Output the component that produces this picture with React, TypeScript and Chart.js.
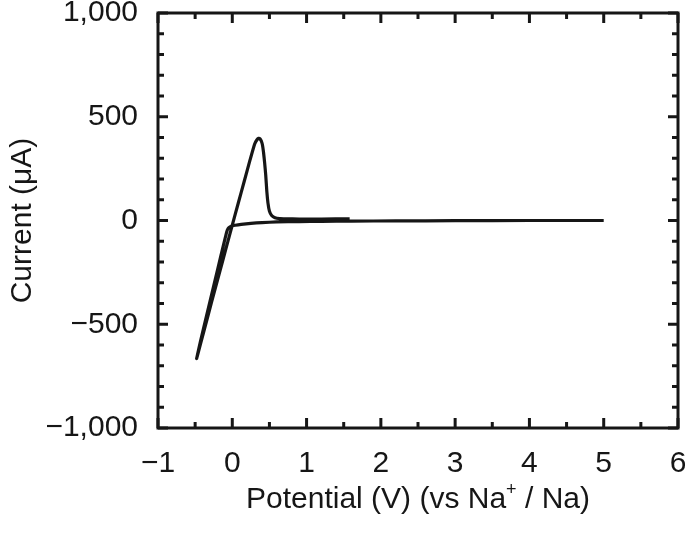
import React, { useEffect, useRef } from "react";
import { Chart, registerables } from "chart.js";

Chart.register(...registerables);

// Cyclic voltammogram: potential (V vs Na+/Na) and current (µA), in scan order
const potential = [
  5.0, 4.0, 3.0, 2.2, 1.6, 1.2, 0.9, 0.6, 0.4, 0.25, 0.12, 0.04, 0.0, -0.03, -0.055, -0.075,
  -0.15, -0.25, -0.35, -0.43, -0.48,
  -0.47, -0.38, -0.28, -0.18, -0.08, 0.0, 0.08, 0.16, 0.24, 0.3, 0.33, 0.355, 0.372, 0.39, 0.405,
  0.42, 0.435, 0.45, 0.465, 0.48, 0.5, 0.53, 0.575, 0.64, 0.72, 0.9, 1.2, 1.58,
];
const current = [
  0, 0, -1, -2, -3, -4, -5, -7, -10, -14, -19, -23, -26, -31, -38, -55,
  -165, -315, -465, -585, -665,
  -652, -530, -395, -262, -128, -22, 83, 188, 293, 368, 388, 396, 394, 384, 366,
  330, 280, 220, 140, 85, 45, 24, 13, 9, 8, 7, 7, 8,
];

const xMajor = [-1, 0, 1, 2, 3, 4, 5, 6];
const xMinor = [-0.5, 0.5, 1.5, 2.5, 3.5, 4.5, 5.5];
const yMajor = [-1000, -500, 0, 500, 1000];
const yMinor = [-900, -800, -700, -600, -400, -300, -200, -100, 100, 200, 300, 400, 600, 700, 800, 900];

const xTitleMain = "Potential (V) (vs Na";
const xTitleSup = "+";
const xTitleEnd = " / Na)";
const yTitle = "Current (\u03bcA)";

const FONT = "'Liberation Sans', Arial, Helvetica, sans-serif";
const INK = "#161616";
const FS = 30;

const frameTicks = {
  id: "frameTicks",
  afterDatasetsDraw(chart: any) {
    const { ctx, chartArea: a, scales } = chart;
    const xs = scales.x;
    const ys = scales.y;
    const MAJ = 10;
    const MIN = 6;
    ctx.save();
    ctx.strokeStyle = INK;
    ctx.lineWidth = 3;
    ctx.lineCap = "butt";
    ctx.beginPath();
    const vt = (vals: number[], len: number) => {
      for (const v of vals) {
        const px = xs.getPixelForValue(v);
        ctx.moveTo(px, a.bottom);
        ctx.lineTo(px, a.bottom - len);
        ctx.moveTo(px, a.top);
        ctx.lineTo(px, a.top + len);
      }
    };
    const ht = (vals: number[], len: number) => {
      for (const v of vals) {
        const py = ys.getPixelForValue(v);
        ctx.moveTo(a.left, py);
        ctx.lineTo(a.left + len, py);
        ctx.moveTo(a.right, py);
        ctx.lineTo(a.right - len, py);
      }
    };
    vt(xMajor, MAJ);
    vt(xMinor, MIN);
    ht(yMajor, MAJ);
    ht(yMinor, MIN);
    ctx.stroke();
    ctx.strokeRect(a.left, a.top, a.right - a.left, a.bottom - a.top);

    // x-axis title with superscript
    const supSize = 18;
    ctx.fillStyle = INK;
    ctx.textBaseline = "alphabetic";
    ctx.font = `${FS}px ${FONT}`;
    const w1 = ctx.measureText(xTitleMain).width;
    const w3 = ctx.measureText(xTitleEnd).width;
    ctx.font = `${supSize}px ${FONT}`;
    const w2 = ctx.measureText(xTitleSup).width;
    const total = w1 + w2 + w3;
    const cx = (a.left + a.right) / 2;
    const baseY = 508;
    const x0 = cx - total / 2;
    ctx.font = `${FS}px ${FONT}`;
    ctx.textAlign = "left";
    ctx.fillText(xTitleMain, x0, baseY);
    ctx.font = `${supSize}px ${FONT}`;
    ctx.fillText(xTitleSup, x0 + w1, baseY - 13);
    ctx.font = `${FS}px ${FONT}`;
    ctx.fillText(xTitleEnd, x0 + w1 + w2, baseY);
    ctx.restore();
  },
};

const fmt = (v: number) => {
  const s = Math.abs(v).toLocaleString("en-US");
  return v < 0 ? "\u2212" + s : s;
};

export default function App() {
  const ref = useRef<HTMLCanvasElement | null>(null);
  useEffect(() => {
    document.body.style.margin = "0";
    const pts = potential.map((x, i) => ({ x, y: current[i] }));
    const chart = new Chart(ref.current as HTMLCanvasElement, {
      type: "line",
      data: {
        datasets: [
          {
            data: pts,
            borderColor: INK,
            borderWidth: 3.2,
            pointRadius: 0,
            tension: 0.15,
            fill: false,
          },
        ],
      },
      options: {
        responsive: false,
        animation: false,
        events: [],
        layout: { padding: { left: 0, top: 13, right: 7, bottom: 0 }, autoPadding: false },
        plugins: { legend: { display: false }, tooltip: { enabled: false } },
        scales: {
          x: {
            type: "linear",
            min: -1,
            max: 6,
            grid: { display: false },
            border: { display: false },
            ticks: {
              stepSize: 1,
              padding: 10,
              color: INK,
              font: { family: FONT, size: FS },
              maxRotation: 0,
              callback: (v: any) => fmt(Number(v)),
            },
            afterFit: (s: any) => {
              s.height = 110;
              s.paddingLeft = 0;
              s.paddingRight = 0;
            },
          },
          y: {
            type: "linear",
            min: -1000,
            max: 1000,
            grid: { display: false },
            border: { display: false },
            title: {
              display: true,
              text: yTitle,
              color: INK,
              font: { family: FONT, size: FS },
              padding: { top: 5, bottom: 0 },
            },
            ticks: {
              stepSize: 500,
              padding: 12,
              color: INK,
              font: { family: FONT, size: FS },
              callback: (v: any) => fmt(Number(v)),
            },
            afterFit: (s: any) => {
              s.width = 158;
              s.paddingTop = 0;
              s.paddingBottom = 0;
            },
          },
        },
      },
      plugins: [frameTicks],
    });
    return () => chart.destroy();
  }, []);
  return (
    <div style={{ width: 685, height: 538 }}>
      <canvas ref={ref} width={685} height={538} />
    </div>
  );
}
